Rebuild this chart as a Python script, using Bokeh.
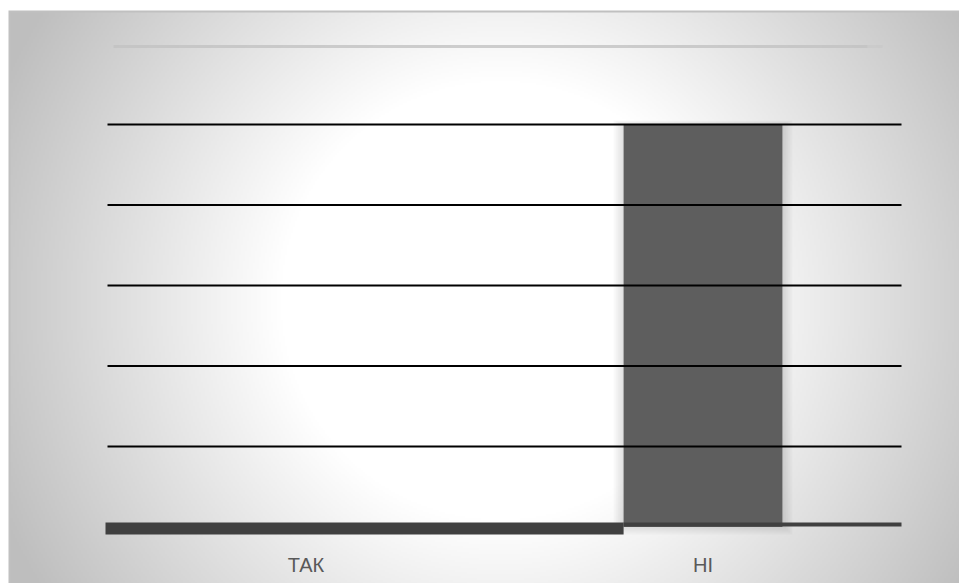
import numpy as np
from bokeh.plotting import figure
from bokeh.models import Range1d, ColumnDataSource
from bokeh.embed import file_html
from bokeh.resources import INLINE
from bokeh.core.properties import value

# ---- data ----
categories = ["ТАК", "НІ"]
values = [0, 100]
grid_ticks = [20, 40, 60, 80, 100]

# ---- layout (pixels) ----
W, H = 959, 583
CAT_PX = 397.0      # width of one category
LEFT_PX = 107.0     # left edge of category axis
ZERO_PX = 526.5     # pixel row of value 0
UNIT_PX = 4.025     # pixels per value unit


def Y(py):
    return (ZERO_PX - py) / UNIT_PX


def X(px):
    return (px - LEFT_PX) / CAT_PX


x_start = X(0)
x_end = X(W)
y_start = Y(H)
y_end = Y(0)

p = figure(width=W, height=H, x_range=Range1d(x_start, x_end), y_range=Range1d(y_start, y_end),
           output_backend="svg", toolbar_location=None, min_border=0)
p.xaxis.visible = False
p.yaxis.visible = False
p.xgrid.visible = False
p.ygrid.visible = False
p.outline_line_color = None
p.background_fill_color = "white"
p.border_fill_color = "white"

# ---- radial gradient background ----
S = 2
nx, ny = 480, 292
pxs = (np.arange(nx) + 0.5) * S
pys = (np.arange(ny) + 0.5) * S
PX, PY = np.meshgrid(pxs, pys)
d = np.sqrt((PX - 500.0) ** 2 + (PY - 300.0) ** 2)
v = np.clip(255 - 0.2 * (d - 220), 190, 255)
v[(PX < 10) | (PY < 12)] = 192
v[(PX < 8) | (PY < 10)] = 255
v = v.astype(np.uint8)
img = np.empty((ny, nx), dtype=np.uint32)
view = img.view(dtype=np.uint8).reshape((ny, nx, 4))
view[:, :, 0] = v
view[:, :, 1] = v
view[:, :, 2] = v
view[:, :, 3] = 255
img = np.flipud(img).copy()
bg = p.image_rgba(image=[img], x=X(0), y=Y(ny * S), dw=X(nx * S) - X(0), dh=Y(0) - Y(ny * S))
bg.level = "image"

# ---- bars ----
xs = [i + 0.5 for i in range(len(categories))]
src = ColumnDataSource(dict(x=xs, top=values))

# soft shadow
for k in [2, 4, 6, 8, 10]:
    p.vbar(x=[xs[1]], top=[values[1] + k * 0.1], bottom=Y(524 + k), width=0.4 + 2 * k / CAT_PX,
           fill_color="black", fill_alpha=0.025, line_color=None)

p.vbar(x="x", top="top", bottom=0, width=0.4, source=src, fill_color="#5e5e5e", line_color=None)

# floor
p.quad(left=X(105), right=xs[1] - 0.2, top=Y(522), bottom=Y(534),
       fill_color="#404040", line_color=None)
p.quad(left=xs[1] - 0.2, right=float(len(categories)), top=Y(522), bottom=Y(526),
       fill_color="#404040", line_color=None)

# gridlines drawn on top of bars, spanning the category axis only
p.segment(x0=[0.0] * len(grid_ticks), y0=grid_ticks,
          x1=[float(len(categories))] * len(grid_ticks), y1=grid_ticks,
          line_color="black", line_width=2)

# faint title decoration line
p.segment(x0=X(113), y0=Y(46), x1=X(867), y1=Y(46),
          line_color="#c2c2c2", line_width=3, line_alpha=0.8)
p.segment(x0=X(867), y0=Y(46), x1=X(882), y1=Y(46),
          line_color="#c2c2c2", line_width=3, line_alpha=0.4)

# category labels
p.text(x=xs, y=[Y(564)] * len(xs), text=categories,
       text_font=value("Liberation Sans"), text_font_size="20px", text_color="#595959",
       text_align="center", text_baseline="middle")

open("out.html", "w").write(file_html(p, INLINE))
